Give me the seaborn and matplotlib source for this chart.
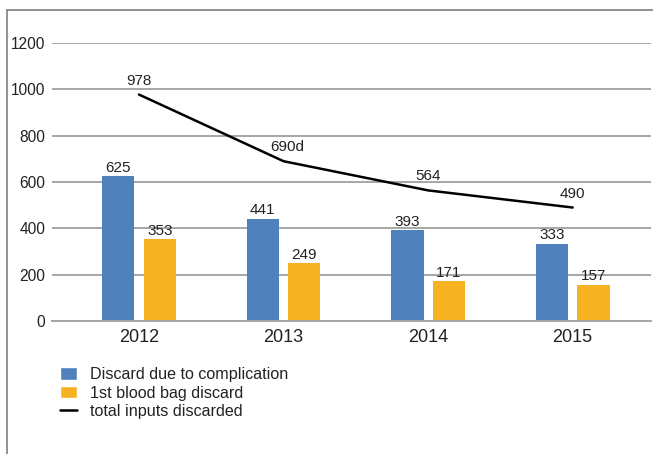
import numpy as np
import pandas as pd
import matplotlib
matplotlib.use("Agg")
import matplotlib.pyplot as plt
import seaborn as sns
from matplotlib.patches import Patch
from matplotlib.lines import Line2D

# Data
years = ["2012", "2013", "2014", "2015"]
complication = [625, 441, 393, 333]
first_bag = [353, 249, 171, 157]
total_inputs = [978, 690, 564, 490]
total_labels = ["978", "690d", "564", "490"]

SERIES = ["Discard due to complication", "1st blood bag discard"]
COLORS = ["#4f81bd", "#f6b221"]

df = pd.DataFrame({
    "year": years * 2,
    "value": complication + first_bag,
    "series": [SERIES[0]] * len(years) + [SERIES[1]] * len(years),
})

sns.set_theme(style="white")
plt.rcParams["font.family"] = ["Liberation Sans", "DejaVu Sans"]
plt.rcParams["text.color"] = "#222222"

fig = plt.figure(figsize=(6.53, 4.54), dpi=100)
ax = fig.add_axes([0.080, 0.293, 0.917, 0.612])

sns.barplot(data=df, x="year", y="value", hue="series", palette=COLORS,
            width=0.574, gap=0.22, saturation=1, linewidth=0,
            legend=False, ax=ax)

for cont in ax.containers:
    ax.bar_label(cont, padding=1, fontsize=11, color="#222222")

# total line on the category positions
xpos = np.arange(len(years))
ax.plot(xpos, total_inputs, color="black", linewidth=1.8, zorder=4)
for x, y, lab in zip(xpos, total_inputs, total_labels):
    ax.annotate(lab, (x, y), xytext=(3 if lab.endswith("d") else 0, 5),
                textcoords="offset points", ha="center", va="bottom",
                fontsize=11, color="#222222")

ax.set_ylim(0, 1200)
ax.set_yticks(range(0, 1201, 200))
ax.set_xlim(-0.600, 3.542)
ax.yaxis.grid(True, color="#a6a6a6", linewidth=1.4)
ax.set_axisbelow(True)
for s in ["top", "right", "left"]:
    ax.spines[s].set_visible(False)
ax.spines["bottom"].set_color("#a6a6a6")
ax.spines["bottom"].set_linewidth(1.4)
ax.tick_params(axis="y", length=0, labelsize=11.2, colors="#222222", pad=5)
ax.tick_params(axis="x", length=0, labelsize=13, colors="#222222", pad=6)
ax.set_xlabel("")
ax.set_ylabel("")

handles = [Patch(facecolor=COLORS[0]), Patch(facecolor=COLORS[1]),
           Line2D([], [], color="black", linewidth=1.8)]
labels = SERIES + ["total inputs discarded"]
fig.legend(handles, labels, loc="upper left", bbox_to_anchor=(0.082, 0.205),
           frameon=False, fontsize=11.6, handlelength=1.05, handleheight=0.85,
           handletextpad=0.8, labelspacing=0.2, borderaxespad=0)

# outer frame (left and top edges visible)
fig.add_artist(plt.Rectangle((7 / 653, -0.1), 2.0, 1.1 - 10 / 454,
                             transform=fig.transFigure, fill=False,
                             edgecolor="#7f7f7f", linewidth=1.2))

fig.savefig("out.png", dpi=100)
